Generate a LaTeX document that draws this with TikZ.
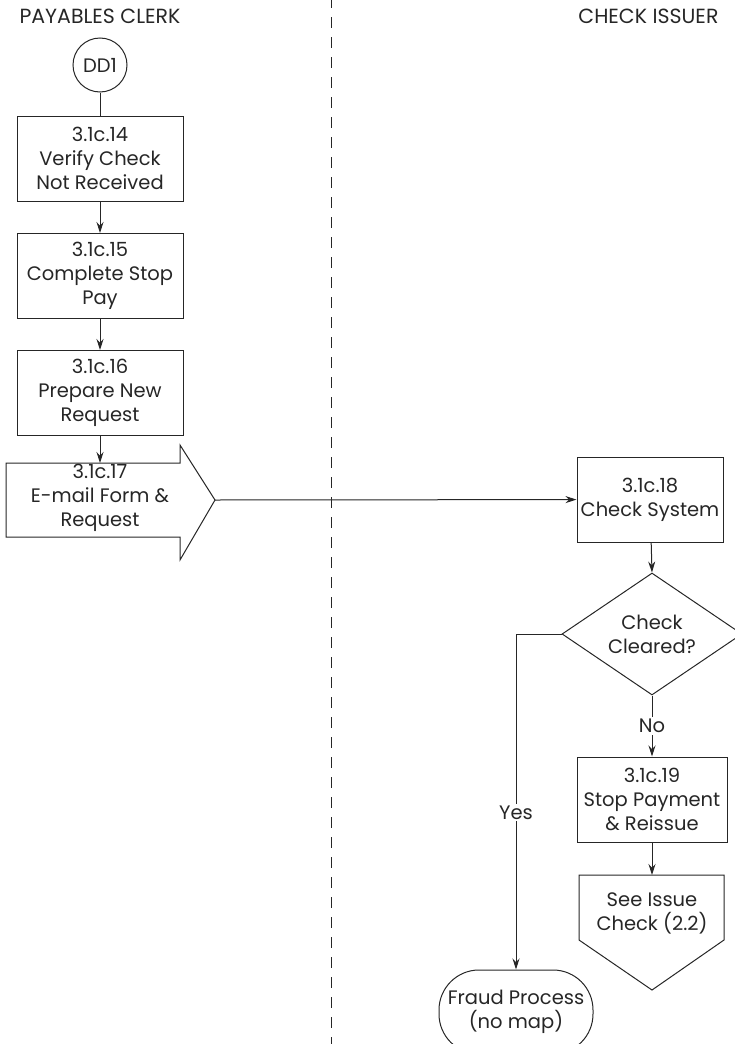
\documentclass[tikz,border=0pt]{standalone}
\usepackage{fontspec}
\setmainfont{Poppins}
\usetikzlibrary{shapes.geometric,arrows.meta}
\definecolor{ink}{HTML}{262626}
\tikzset{
  lane/.style={font=\fontsize{20.5}{24}\selectfont, text=ink},
  procbox/.style={draw=ink, line width=1pt, rectangle, minimum width=#1, minimum height=85pt, align=center, inner sep=1pt, font=\fontsize{19.5}{24}\selectfont, text=ink},
  procbox/.default=166pt,
  txt/.style={align=center, inner sep=1pt, font=\fontsize{19.5}{24}\selectfont, text=ink},
  flow/.style={draw=ink, line width=1pt, -{Stealth[length=11pt,width=7pt]}},
  plain/.style={draw=ink, line width=1pt},
  lbl/.style={fill=white, inner sep=2pt, font=\fontsize{19.5}{22}\selectfont, text=ink},
}
\begin{document}
\begin{tikzpicture}[x=1pt,y=-1pt]
\useasboundingbox (0,0) rectangle (735,1044);
\clip (0,0) rectangle (735,1044);
% swimlane divider
\draw[ink, line width=0.9pt, dash pattern=on 11pt off 9pt] (331,-3) -- (331,1048);
% lane titles
\node[lane, anchor=west] (lanea) at (16,16) {PAYABLES CLERK};
\node[lane, anchor=east] (laneb) at (722,16) {CHECK ISSUER};
% connector circle
\node[draw=ink, line width=1pt, circle, minimum size=54pt, inner sep=0pt, txt] (dd1) at (100,65) {DD1};
% process boxes
\node[procbox] (b14) at (100,158.5) {3.1c.14\\Verify Check\\Not Received};
\node[procbox] (b15) at (100,276) {3.1c.15\\Complete Stop\\Pay};
\node[procbox] (b16) at (100,393) {3.1c.16\\Prepare New\\Request};
% send arrow 3.1c.17
\coordinate (a17top) at (100,463);
\coordinate (a17tip) at (215,500);
\draw[plain, line join=miter] (6,463) -- (180,463) -- (180,445) -- (a17tip) -- (180,560) -- (180,537) -- (6,537) -- cycle;
\node[txt] (b17) at (100,498) {3.1c.17\\E-mail Form \&\\Request};
% right lane
\node[procbox=146pt] (b18) at (650,499.5) {3.1c.18\\Check System};
\node[draw=ink, line width=1pt, diamond, minimum width=180pt, minimum height=122pt, aspect=1.475, inner sep=0pt, txt] (dec) at (652,634) {Check\\Cleared?};
\node[procbox=150pt] (b19) at (652,799.5) {3.1c.19\\Stop Payment\\\& Reissue};
% off-page connector
\coordinate (offtop) at (652,875);
\coordinate (offtip) at (652,990);
\draw[plain, line join=miter] (579,875) -- (724,875) -- (724,940) -- (offtip) -- (579,940) -- cycle;
\node[txt] (off) at (652,913) {See Issue\\Check (2.2)};
% terminator
\node[draw=ink, line width=1pt, rectangle, rounded corners=40pt, minimum width=154pt, minimum height=84pt, txt] (fraud) at (516,1012) {Fraud Process\\(no map)};
% connectors
\draw[plain] (dd1) -- (b14);
\draw[flow] (b14) -- (b15);
\draw[flow] (b15) -- (b16);
\draw[flow] (b16) -- (a17top);
\draw[flow] (a17tip) -- (b18);
\draw[flow] (b18) -- (dec.north);
\draw[flow] (dec.south) -- node[lbl] (no) {No} (b19);
\draw[flow] (b19) -- (offtop);
\draw[flow] (dec.west) -| node[lbl, pos=0.766] (yes) {Yes} (fraud.north);
\end{tikzpicture}
\end{document}
